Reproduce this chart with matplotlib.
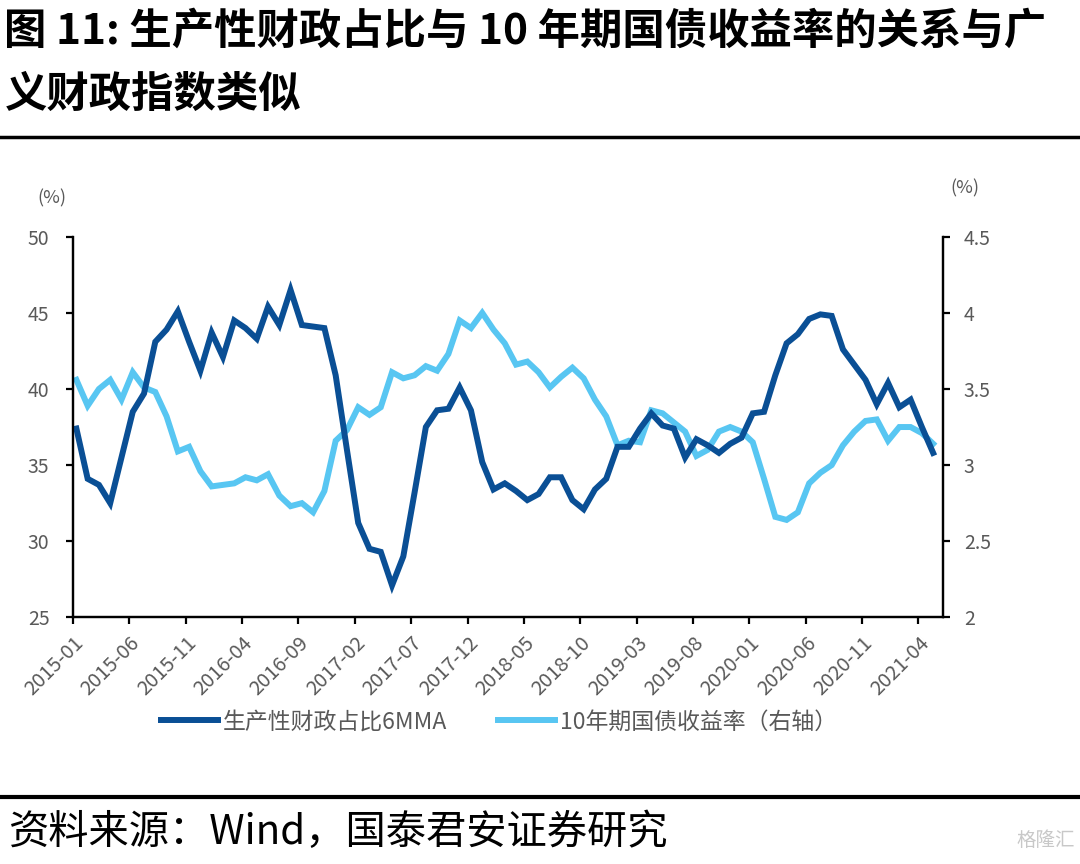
import numpy as np
import matplotlib
matplotlib.use('Agg')
import matplotlib.pyplot as plt
from matplotlib.lines import Line2D

plt.rcParams['font.family'] = ['Noto Sans CJK SC', 'DejaVu Sans']

# ===================== 数据 =====================
# 月度数据 2015-01 ~ 2021-05
months = [f'{y}-{m:02d}' for y in range(2015, 2022) for m in range(1, 13)][:77]

fiscal_share_6mma = [
    37.4, 34.1, 33.7, 32.5, 35.5, 38.5, 39.7, 43.1, 43.9, 45.1,
    43.1, 41.2, 43.7, 42.1, 44.5, 44.0, 43.3, 45.4, 44.2, 46.5,
    44.2, 44.1, 44.0, 40.9, 36.0, 31.2, 29.5, 29.3, 27.1, 29.0,
    33.2, 37.5, 38.6, 38.7, 40.1, 38.6, 35.2, 33.4, 33.8, 33.3,
    32.7, 33.1, 34.2, 34.2, 32.7, 32.1, 33.4, 34.1, 36.2, 36.2,
    37.4, 38.4, 37.6, 37.4, 35.5, 36.7, 36.3, 35.8, 36.4, 36.8,
    38.4, 38.5, 40.9, 43.0, 43.6, 44.6, 44.9, 44.8, 42.6, 41.6,
    40.6, 39.0, 40.4, 38.8, 39.3, 37.5, 35.8,
]

cgb_10y = [
    3.56, 3.39, 3.50, 3.56, 3.43, 3.61, 3.51, 3.48, 3.32, 3.09,
    3.12, 2.96, 2.86, 2.87, 2.88, 2.92, 2.90, 2.94, 2.80, 2.73,
    2.75, 2.69, 2.83, 3.16, 3.23, 3.38, 3.33, 3.38, 3.61, 3.57,
    3.59, 3.65, 3.62, 3.73, 3.95, 3.90, 4.00, 3.89, 3.80, 3.66,
    3.68, 3.61, 3.51, 3.58, 3.64, 3.57, 3.43, 3.32, 3.13, 3.16,
    3.15, 3.36, 3.34, 3.28, 3.22, 3.06, 3.10, 3.22, 3.25, 3.22,
    3.15, 2.91, 2.66, 2.64, 2.69, 2.88, 2.95, 3.00, 3.13, 3.22,
    3.29, 3.30, 3.16, 3.25, 3.25, 3.21, 3.14,
]

left_ticks = [25, 30, 35, 40, 45, 50]
right_ticks = [2, 2.5, 3, 3.5, 4, 4.5]
right_tick_labels = ['2', '2.5', '3', '3.5', '4', '4.5']

dark_blue = '#0a4f95'
light_blue = '#58c6f2'
gray = '#595959'

# ===================== 绘图 =====================
fig = plt.figure(figsize=(10.8, 8.64), dpi=100)
ax = fig.add_axes([0.0676, 0.2855, 0.8055, 0.4405])
ax2 = ax.twinx()

x = np.arange(len(months)) + 0.3  # 数据点落在月内，刻度在月初
l1, = ax.plot(x, fiscal_share_6mma, color=dark_blue, lw=4.3,
              solid_joinstyle='miter', label='生产性财政占比6MMA')
l2, = ax2.plot(x, cgb_10y, color=light_blue, lw=4.3,
               solid_joinstyle='miter', label='10年期国债收益率（右轴）')
ax.set_zorder(ax2.get_zorder() + 1)
ax.patch.set_visible(False)

ax.set_xlim(0, 77.17)
ax.set_ylim(25, 50)
ax2.set_ylim(2, 4.5)

ax.set_xticks(np.arange(0, 77, 5))
ax.set_xticklabels(months[::5], rotation=45, ha='right', rotation_mode='anchor')
ax.set_yticks(left_ticks)
ax2.set_yticks(right_ticks)
ax2.set_yticklabels(right_tick_labels)

for a in (ax, ax2):
    a.spines['top'].set_visible(False)
    for s in a.spines.values():
        s.set_linewidth(1.6)
        s.set_color('black')
    a.tick_params(direction='out', length=5, width=1.6, colors='black',
                  labelcolor=gray, labelsize=14)
ax.tick_params(axis='y', pad=12)
ax2.tick_params(axis='y', pad=10)
ax.tick_params(axis='x', pad=6, labelsize=14.5)

fig.text(52 / 1080, 1 - 198 / 864, '(%)', color=gray, fontsize=13, ha='center', va='center')
fig.text(965 / 1080, 1 - 188 / 864, '(%)', color=gray, fontsize=13, ha='center', va='center')

leg = fig.legend(handles=[l1, l2], loc='center', bbox_to_anchor=(0.462, 1 - 722 / 864),
                 ncol=2, frameon=False, fontsize=16.5, handlelength=2.5,
                 handletextpad=0.22, columnspacing=2.2)
for t in leg.get_texts():
    t.set_color(gray)

# 标题、分隔线与来源
fig.text(0.004, 1 - 32 / 864, '图 11: 生产性财政占比与 10 年期国债收益率的关系与广',
         fontsize=30.5, fontweight='bold', va='center', ha='left')
fig.text(0.004, 1 - 95 / 864, '义财政指数类似',
         fontsize=30.5, fontweight='bold', va='center', ha='left')
fig.add_artist(Line2D([0, 1], [1 - 137 / 864] * 2, color='black', lw=2.5,
                      transform=fig.transFigure))
fig.add_artist(Line2D([0, 1], [1 - 797 / 864] * 2, color='black', lw=3,
                      transform=fig.transFigure))
fig.text(0.008, 1 - 832 / 864, '资料来源：Wind，国泰君安证券研究',
         fontsize=29, va='center', ha='left')
fig.text(0.995, 1 - 840 / 864, '格隆汇', fontsize=14, color='#c8c8c8',
         va='center', ha='right')

fig.savefig('out.png', dpi=100)
